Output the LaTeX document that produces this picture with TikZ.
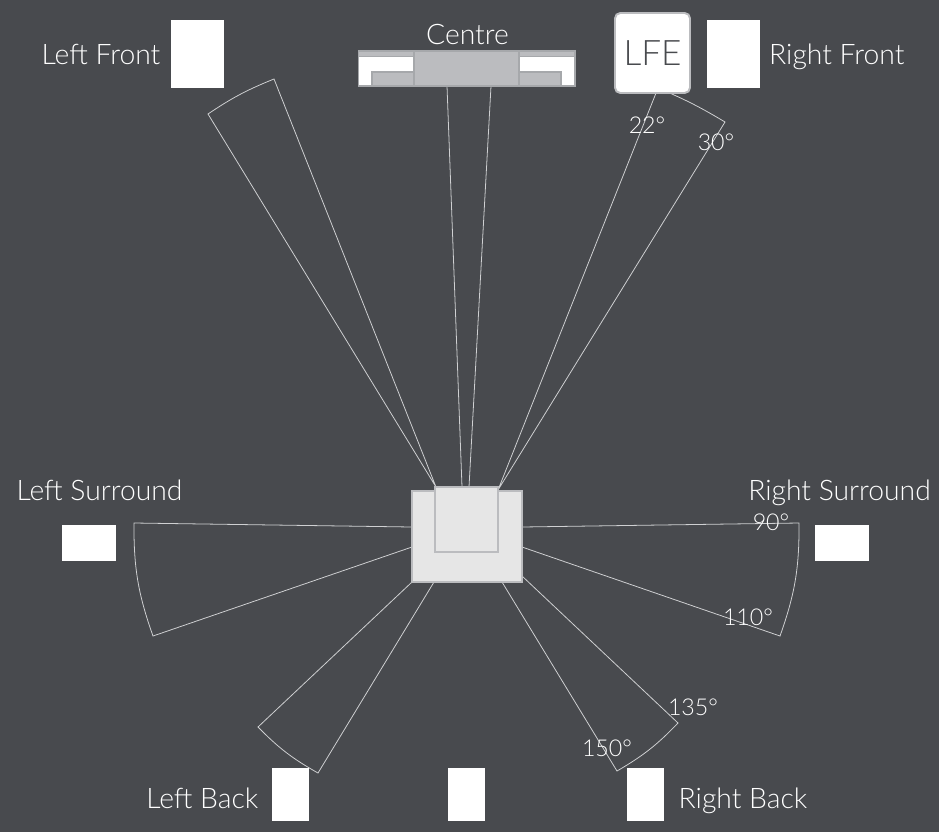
\documentclass[tikz,border=0pt]{standalone}
\usepackage{fontspec}
\setmainfont{Lato Light}
\usepackage{xcolor}
\usetikzlibrary{positioning}
\definecolor{roomgrey}{HTML}{484A4E}
\definecolor{edgegrey}{HTML}{A6A8AB}
\definecolor{blockgrey}{HTML}{BBBCBF}
\definecolor{chairgrey}{HTML}{E6E6E6}
\definecolor{wedgeline}{HTML}{CFD0D2}
\tikzset{
  spkfront/.style={fill=white,inner sep=0pt,minimum width=1.06cm,minimum height=1.36cm},
  spkside/.style={fill=white,inner sep=0pt,minimum width=1.08cm,minimum height=0.72cm},
  spkback/.style={fill=white,inner sep=0pt,minimum width=0.74cm,minimum height=1.06cm},
  wedge/.style={draw=wedgeline,line width=0.45pt,line join=miter},
  chair/.style={draw=blockgrey,fill=chairgrey,line width=1.2pt},
  bar/.style={draw=edgegrey,fill=blockgrey,line width=0.6pt},
  lab/.style={text=white,inner sep=0pt,text height=0.4cm,text depth=0pt,font=\fontsize{16.1}{19}\selectfont},
  deg/.style={text=white,inner sep=0pt,font=\fontsize{13.2}{15}\selectfont}
}
\begin{document}
\begin{tikzpicture}[x=0.02cm,y=-0.02cm]
\fill[roomgrey] (0,0) rectangle (939,832);
\useasboundingbox (0,0) rectangle (939,832);

% listening angles
\draw[wedge] (436,487) -- (208,114) to[bend left=6] (274,79) -- cycle;
\draw[wedge] (462,487) -- (447,86) -- (491,86) -- (469,487);
\draw[wedge] (498,490) -- (725,122) to[bend right=4] (658,88) -- cycle;
\draw[wedge] (412,527) -- (134,523) to[bend right=10] (153,636) -- (412,547);
\draw[wedge] (522,527) -- (799,523) to[bend left=10] (780,636) -- (522,547);
\draw[wedge] (412,582) -- (258,727) to[bend right=8] (318,773) -- (434,582);
\draw[wedge] (522,576) -- (678,723) to[bend left=8] (617,771) -- (502,582);

% centre speaker
\draw[edgegrey,fill=white,line width=0.6pt] (358.5,51) rectangle (575,86);
\draw[bar] (358.5,51) rectangle (575,56.5);
\draw[bar] (372,72) rectangle (561,86);
\draw[bar] (414,51) rectangle (519,86);
\node[lab] (centre) at (467.5,34) {Centre};

% speakers
\node[spkfront] (lfront) at (197.5,54) {};
\node[spkfront] (rfront) at (733.5,54) {};
\node[draw=blockgrey,fill=white,line width=1.1pt,rounded corners=3pt,inner sep=0pt,
  minimum width=1.5cm,minimum height=1.6cm,text=roomgrey,text height=0.48cm,text depth=0pt,
  font=\fontsize{20}{22}\selectfont] (lfe) at (652.5,53) {LFE};
\node[spkside] (lsurr) at (89,543) {};
\node[spkside] (rsurr) at (842,543) {};
\node[spkback] (lback) at (290.5,794.5) {};
\node[spkback] (cback) at (466.5,794.5) {};
\node[spkback] (rback) at (645.5,794.5) {};

% seat
\node[chair,minimum width=2.2cm,minimum height=1.82cm,inner sep=0pt] (seat) at (467,536.5) {};
\node[chair,minimum width=1.26cm,minimum height=1.3cm,inner sep=0pt] (back) at (466.5,519.5) {};

% names
\node[lab] (lfrontlab) [left=0.2cm of lfront] {Left Front};
\node[lab] (rfrontlab) [right=0.17cm of rfront] {Right Front};
\node[lab] (lsurrlab) at (99.5,490) {Left Surround};
\node[lab] (rsurrlab) at (839.5,490) {Right Surround};
\node[lab] (lbacklab) [left=0.26cm of lback,yshift=-0.07cm] {Left Back};
\node[lab] (rbacklab) [right=0.28cm of rback,yshift=-0.07cm] {Right Back};

% angles
\node[deg] (d22) at (647,125) {22°};
\node[deg] (d30) at (716,142) {30°};
\node[deg] (d90) at (771,522) {90°};
\node[deg] (d110) at (748,617) {110°};
\node[deg] (d135) at (693,707) {135°};
\node[deg] (d150) at (607,748) {150°};
\end{tikzpicture}
\end{document}
